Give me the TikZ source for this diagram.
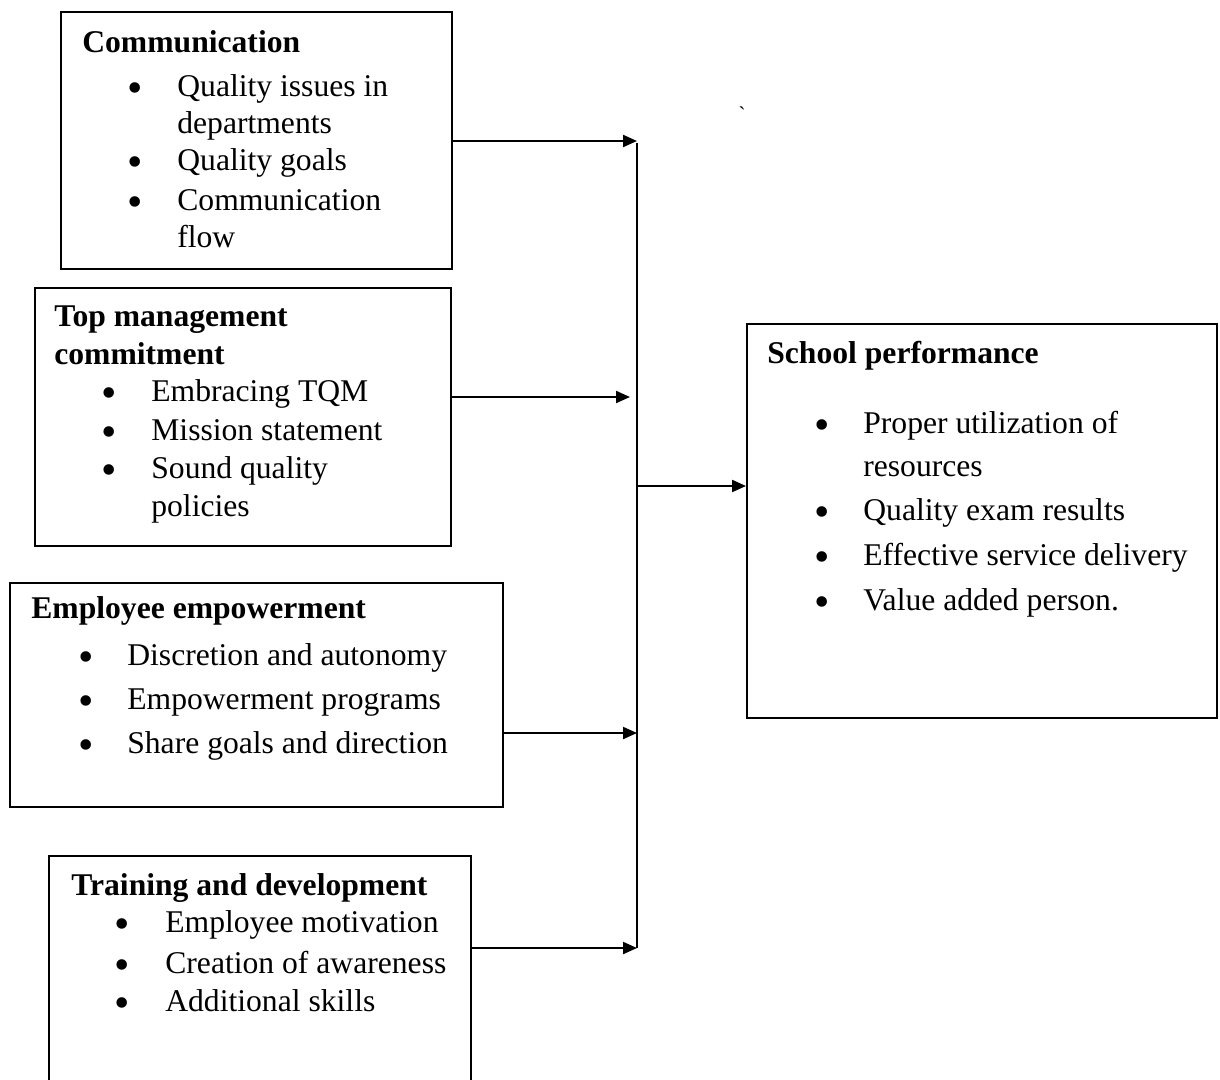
\documentclass[tikz,border=0pt]{standalone}
\usepackage{fontspec}
\setmainfont{Liberation Serif}
\usetikzlibrary{arrows.meta}
\newcommand{\bodysize}{\fontsize{18}{21.6}\selectfont}
\tikzset{
  box/.style={draw, line width=1.1pt, anchor=north west, inner sep=0pt},
  head/.style={anchor=base west, inner sep=0pt, font=\bodysize\bfseries},
  txt/.style={anchor=base west, inner sep=0pt, font=\bodysize},
  bul/.style={anchor=base, inner sep=0pt, yshift=-0.13cm, font=\fontsize{25}{25}\selectfont},
  link/.style={line width=1.2pt},
  arr/.style={link, -{Triangle[length=0.28cm,width=0.24cm]}}
}
\newcommand{\blt}{\smash{•}}
\begin{document}
\begin{tikzpicture}[x=0.02cm, y=-0.02cm]
      \clip (0,0) rectangle (1220,1079);

      \node[box, minimum width=7.82cm, minimum height=5.14cm] (comm) at (60,11) {};
      \node[head] (comm-h) at (82,52) {Communication};
      \node[bul] (comm-b1) at (135,96) {\blt};
      \node[txt] (comm-1) at (177,96) {Quality issues in};
      \node[txt] (comm-1a) at (177,133) {departments};
      \node[bul] (comm-b2) at (135,170) {\blt};
      \node[txt] (comm-2) at (177,170) {Quality goals};
      \node[bul] (comm-b3) at (135,210) {\blt};
      \node[txt] (comm-3) at (177,210) {Communication};
      \node[txt] (comm-3a) at (177,247) {flow};

      \node[box, minimum width=8.32cm, minimum height=5.16cm] (top) at (34,287) {};
      \node[head] (top-h) at (54,326) {Top management};
      \node[head] (top-ha) at (54,364) {commitment};
      \node[bul] (top-b1) at (109,401) {\blt};
      \node[txt] (top-1) at (151,401) {Embracing TQM};
      \node[bul] (top-b2) at (109,440) {\blt};
      \node[txt] (top-2) at (151,440) {Mission statement};
      \node[bul] (top-b3) at (109,478) {\blt};
      \node[txt] (top-3) at (151,478) {Sound quality};
      \node[txt] (top-3a) at (151,516) {policies};

      \node[box, minimum width=9.86cm, minimum height=4.48cm] (emp) at (9,582) {};
      \node[head] (emp-h) at (31,618) {Employee empowerment};
      \node[bul] (emp-b1) at (86,665) {\blt};
      \node[txt] (emp-1) at (127,665) {Discretion and autonomy};
      \node[bul] (emp-b2) at (86,709) {\blt};
      \node[txt] (emp-2) at (127,709) {Empowerment programs};
      \node[bul] (emp-b3) at (86,753) {\blt};
      \node[txt] (emp-3) at (127,753) {Share goals and direction};

      \node[box, minimum width=8.44cm, minimum height=4.9cm] (train) at (48,855) {};
      \node[head] (train-h) at (71,895) {Training and development};
      \node[bul] (train-b1) at (122,932) {\blt};
      \node[txt] (train-1) at (165,932) {Employee motivation};
      \node[bul] (train-b2) at (122,973) {\blt};
      \node[txt] (train-2) at (165,973) {Creation of awareness};
      \node[bul] (train-b3) at (122,1011) {\blt};
      \node[txt] (train-3) at (165,1011) {Additional skills};

      \node[box, minimum width=9.4cm, minimum height=7.88cm] (perf) at (746,323) {};
      \node[head] (perf-h) at (767,363) {School performance};
      \node[bul] (perf-b1) at (822,433) {\blt};
      \node[txt] (perf-1) at (863,433) {Proper utilization of};
      \node[txt] (perf-1a) at (863,476) {resources};
      \node[bul] (perf-b2) at (822,520) {\blt};
      \node[txt] (perf-2) at (863,520) {Quality exam results};
      \node[bul] (perf-b3) at (822,565) {\blt};
      \node[txt] (perf-3) at (863,565) {Effective service delivery};
      \node[bul] (perf-b4) at (822,610) {\blt};
      \node[txt] (perf-4) at (863,610) {Value added person.};

      \node[inner sep=0pt, font=\fontsize{12}{12}\selectfont] (tick) at (742,114) {\textasciigrave};

      \coordinate (j1) at (637,141);
      \coordinate (j2) at (637,397);
      \coordinate (j3) at (637,733);
      \coordinate (j4) at (637,948);
      \coordinate (jm) at (637,486);
      \begin{scope}[arr]
        \draw (comm.east |- j1) to (j1);
        \draw (top.east |- j2) to ([xshift=-0.14cm]j2);
        \draw (emp.east |- j3) to (j3);
        \draw (train.east |- j4) to (j4);
        \draw (jm) to (perf.west |- jm);
      \end{scope}
      \draw[link] ([yshift=-0.04cm]j1) to (j4);
    \end{tikzpicture}
\end{document}
